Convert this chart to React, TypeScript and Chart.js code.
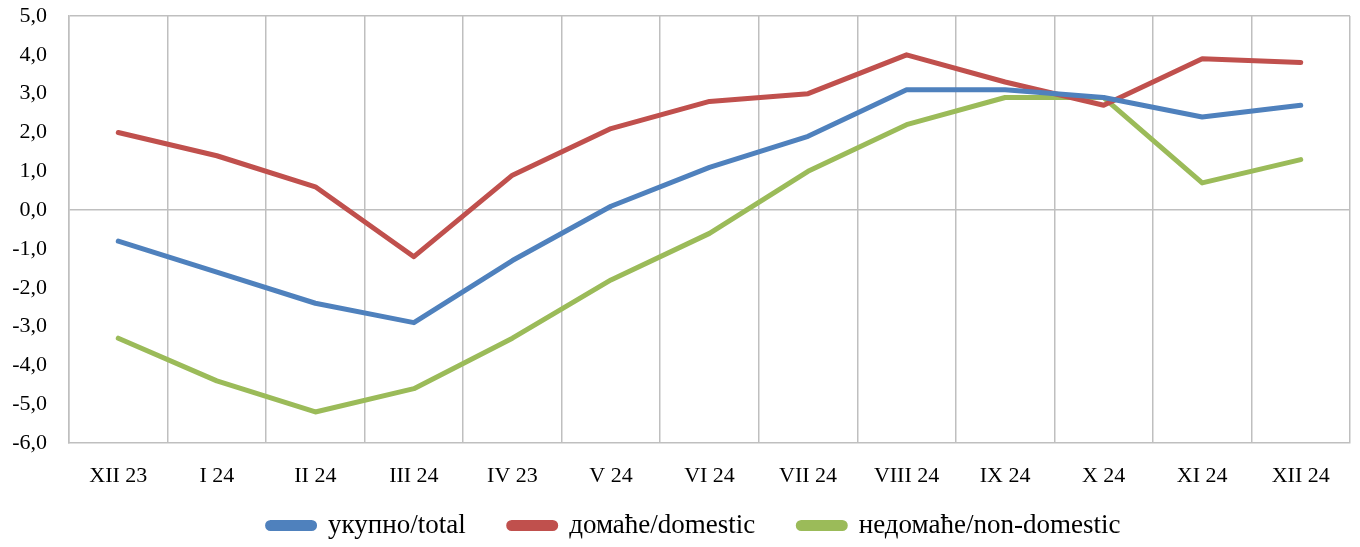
import React, { useEffect, useRef } from "react";
import { Chart, registerables } from "chart.js";

Chart.register(...registerables);

const categories = ["XII 23", "I 24", "II 24", "III 24", "IV 23", "V 24", "VI 24", "VII 24", "VIII 24", "IX 24", "X 24", "XI 24", "XII 24"];
const totalValues = [-0.8, -1.6, -2.4, -2.9, -1.3, 0.1, 1.1, 1.9, 3.1, 3.1, 2.9, 2.4, 2.7];
const domesticValues = [2.0, 1.4, 0.6, -1.2, 0.9, 2.1, 2.8, 3.0, 4.0, 3.3, 2.7, 3.9, 3.8];
const nonDomesticValues = [-3.3, -4.4, -5.2, -4.6, -3.3, -1.8, -0.6, 1.0, 2.2, 2.9, 2.9, 0.7, 1.3];
const seriesNames = ["укупно/total", "домаће/domestic", "недомаће/non-domestic"];

const FONT = "'Liberation Serif', 'DejaVu Serif', serif";
const GRID = "#BFBFBF";

// shifts the legend after layout so it sits where the reference has it
const legendShift = {
  id: "legendShift",
  afterLayout(chart: any) {
    const lg = chart.legend;
    if (!lg) return;
    lg.top -= 22;
    lg.left += 19;
    lg.right += 19;
  },
};

export default function App() {
  const ref = useRef<HTMLCanvasElement | null>(null);
  useEffect(() => {
    document.body.style.margin = "0";
    if (!ref.current) return;
    const mk = (label: string, data: number[], color: string) => ({
      label,
      data,
      borderColor: color,
      backgroundColor: color,
      borderWidth: 5,
      pointRadius: 0,
      tension: 0,
      borderCapStyle: "round" as const,
      borderJoinStyle: "round" as const,
    });
    const chart = new Chart(ref.current, {
      type: "line",
      data: {
        labels: categories,
        datasets: [
          mk(seriesNames[0], totalValues, "#4F81BD"),
          mk(seriesNames[1], domesticValues, "#C0504D"),
          mk(seriesNames[2], nonDomesticValues, "#9BBB59"),
        ],
      },
      plugins: [legendShift],
      options: {
        animation: false,
        responsive: false,
        maintainAspectRatio: false,
        layout: { padding: { top: 16, right: 10, left: 0, bottom: 0 } },
        plugins: {
          tooltip: { enabled: false },
          legend: {
            position: "bottom",
            maxHeight: 56,
            labels: {
              font: { family: FONT, size: 27 },
              color: "#000",
              boxWidth: 47,
              boxHeight: 6,
              padding: 43,
              useBorderRadius: true,
              borderRadius: 3,
            },
          },
        },
        scales: {
          x: {
            offset: true,
            grid: { offset: true, color: GRID, lineWidth: 1.5, drawTicks: false },
            border: { color: GRID, width: 1.5 },
            ticks: { font: { family: FONT, size: 22 }, color: "#000", padding: 20, maxRotation: 0, autoSkip: false },
            afterFit: (s: any) => { s.height = 48; },
          },
          y: {
            min: -6,
            max: 5,
            grid: {
              drawTicks: false,
              lineWidth: 1.5,
              color: (ctx: any) => (ctx.tick && (ctx.tick.value === 0 || ctx.tick.value === 5) ? GRID : "rgba(0,0,0,0)"),
            },
            border: { color: GRID, width: 1.5 },
            ticks: {
              stepSize: 1,
              font: { family: FONT, size: 22 },
              color: "#000",
              padding: 22,
              callback: (v: any) => Number(v).toFixed(1).replace(".", ","),
            },
            afterFit: (s: any) => { s.width = 69; s.paddingTop = 0; s.paddingBottom = 0; },
          },
        },
      },
    });
    return () => chart.destroy();
  }, []);
  return (
    <div style={{ width: 1360, height: 547 }}>
      <canvas ref={ref} width={1360} height={547} style={{ width: 1360, height: 547, display: "block" }} />
    </div>
  );
}
